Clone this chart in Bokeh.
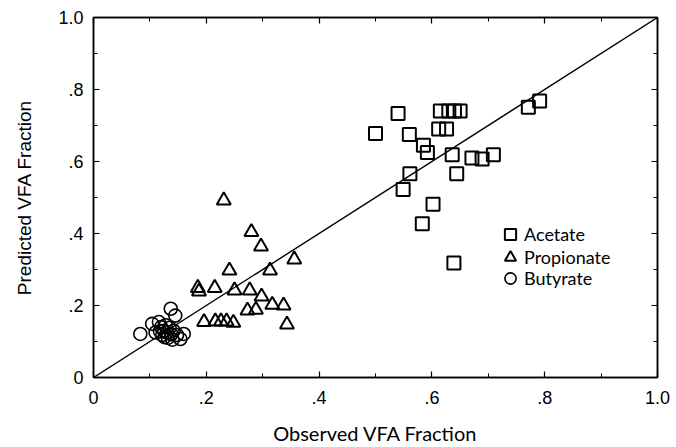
from bokeh.plotting import figure
from bokeh.models import (Range1d, FixedTicker, LinearAxis, Legend, LegendItem,
                          ColumnDataSource)
from bokeh.embed import file_html
from bokeh.resources import INLINE

# Observed vs predicted volatile fatty acid fractions
acetate_obs = [0.500, 0.540, 0.560, 0.549, 0.561, 0.583, 0.585, 0.592, 0.602,
               0.612, 0.626, 0.615, 0.630, 0.640, 0.650, 0.636, 0.644, 0.639,
               0.671, 0.689, 0.709, 0.771, 0.791]
acetate_pred = [0.678, 0.733, 0.675, 0.522, 0.566, 0.427, 0.645, 0.625, 0.481,
                0.690, 0.690, 0.740, 0.740, 0.740, 0.740, 0.619, 0.566, 0.318,
                0.610, 0.607, 0.619, 0.751, 0.768]

propionate_obs = [0.231, 0.280, 0.297, 0.356, 0.313, 0.241, 0.185, 0.187, 0.215,
                  0.250, 0.277, 0.298, 0.273, 0.288, 0.317, 0.337, 0.196, 0.216,
                  0.226, 0.236, 0.248, 0.343]
propionate_pred = [0.492, 0.404, 0.364, 0.328, 0.297, 0.297, 0.249, 0.239, 0.249,
                   0.242, 0.242, 0.225, 0.186, 0.188, 0.202, 0.200, 0.154, 0.156,
                   0.156, 0.156, 0.152, 0.147]

butyrate_obs = [0.083, 0.104, 0.110, 0.116, 0.120, 0.122, 0.125, 0.128, 0.130,
                0.132, 0.135, 0.137, 0.138, 0.140, 0.145, 0.142, 0.148, 0.154,
                0.160, 0.118, 0.126]
butyrate_pred = [0.121, 0.149, 0.125, 0.154, 0.140, 0.118, 0.130, 0.145, 0.125,
                 0.110, 0.138, 0.191, 0.120, 0.105, 0.172, 0.130, 0.118, 0.107,
                 0.121, 0.128, 0.112]

identity = [0.0, 1.0]

major_ticks = [0.0, 0.2, 0.4, 0.6, 0.8, 1.0]
minor_ticks = [0.1, 0.3, 0.5, 0.7, 0.9]
tick_labels = ["0", ".2", ".4", ".6", ".8", "1.0"]

TICK_FONT = "Liberation Sans"
TITLE_FONT = "Lato"

p = figure(width=676, height=447, output_backend="svg", toolbar_location=None,
           x_range=Range1d(0, 1), y_range=Range1d(0, 1),
           min_border_left=93, min_border_right=19,
           min_border_top=17, min_border_bottom=70)
p.background_fill_color = "white"
p.border_fill_color = "white"
p.grid.visible = False
p.outline_line_color = "black"
p.outline_line_width = 1.5

shown = {t: s for t, s in zip(major_ticks, tick_labels)}
hidden = {t: "" for t in major_ticks}

def style_axis(ax, labels=True):
    ax.ticker = FixedTicker(ticks=major_ticks, minor_ticks=minor_ticks)
    ax.axis_line_color = "black"
    ax.axis_line_width = 1.5
    ax.major_tick_in = 6
    ax.major_tick_out = 0
    ax.minor_tick_in = 4
    ax.minor_tick_out = 0
    ax.major_tick_line_width = 1.2
    ax.minor_tick_line_width = 1.0
    ax.major_label_text_font = TICK_FONT
    ax.major_label_text_font_size = "18px"
    ax.major_label_text_color = "black"
    ax.major_label_text_line_height = 0.9
    if labels:
        ax.major_label_overrides = shown
    else:
        ax.major_label_overrides = hidden
        ax.major_label_standoff = 0

xa = p.xaxis[0]
ya = p.yaxis[0]
style_axis(xa)
style_axis(ya)
xa.major_label_standoff = 13
ya.major_label_standoff = 10

xa.axis_label = "Observed VFA Fraction"
xa.axis_label_text_font = TITLE_FONT
xa.axis_label_text_font_size = "20px"
xa.axis_label_text_font_style = "normal"
xa.axis_label_text_color = "black"
xa.axis_label_text_line_height = 0.9
xa.axis_label_standoff = 14

ya.axis_label = "Predicted VFA Fraction"
ya.axis_label_text_font = TICK_FONT
ya.axis_label_text_font_size = "19px"
ya.axis_label_text_font_style = "normal"
ya.axis_label_text_color = "black"
ya.axis_label_standoff = 20

top_axis = LinearAxis()
right_axis = LinearAxis()
style_axis(top_axis, labels=False)
style_axis(right_axis, labels=False)
p.add_layout(top_axis, "above")
p.add_layout(right_axis, "right")

# 1:1 reference line
p.line(identity, identity, line_color="black", line_width=1.4)

ac = ColumnDataSource(dict(x=acetate_obs, y=acetate_pred))
pr = ColumnDataSource(dict(x=propionate_obs, y=propionate_pred))
bu = ColumnDataSource(dict(x=butyrate_obs, y=butyrate_pred))

r_ac = p.scatter("x", "y", source=ac, marker="square", size=13,
                 fill_color=None, line_color="black", line_width=2)
r_pr = p.scatter("x", "y", source=pr, marker="triangle", size=14,
                 fill_color=None, line_color="black", line_width=2)
r_bu = p.scatter("x", "y", source=bu, marker="circle", size=13,
                 fill_color=None, line_color="black", line_width=1.6)

# one single-entry legend per series, stacked tightly inside the frame
series_keys = [("Acetate", r_ac), ("Propionate", r_pr), ("Butyrate", r_bu)]
legend_bottoms = [129, 106, 85]
for (name, rend), vy in zip(series_keys, legend_bottoms):
    lg = Legend(items=[LegendItem(label=name, renderers=[rend])],
                location=(403, vy), orientation="vertical")
    lg.border_line_color = None
    lg.background_fill_alpha = 0
    lg.padding = 0
    lg.margin = 0
    lg.spacing = 0
    lg.glyph_width = 28
    lg.glyph_height = 28
    lg.label_height = 28
    lg.label_standoff = 0
    lg.label_text_font = TITLE_FONT
    lg.label_text_font_size = "18px"
    lg.label_text_color = "black"
    p.add_layout(lg, "center")

open("out.html", "w").write(file_html(p, INLINE))
